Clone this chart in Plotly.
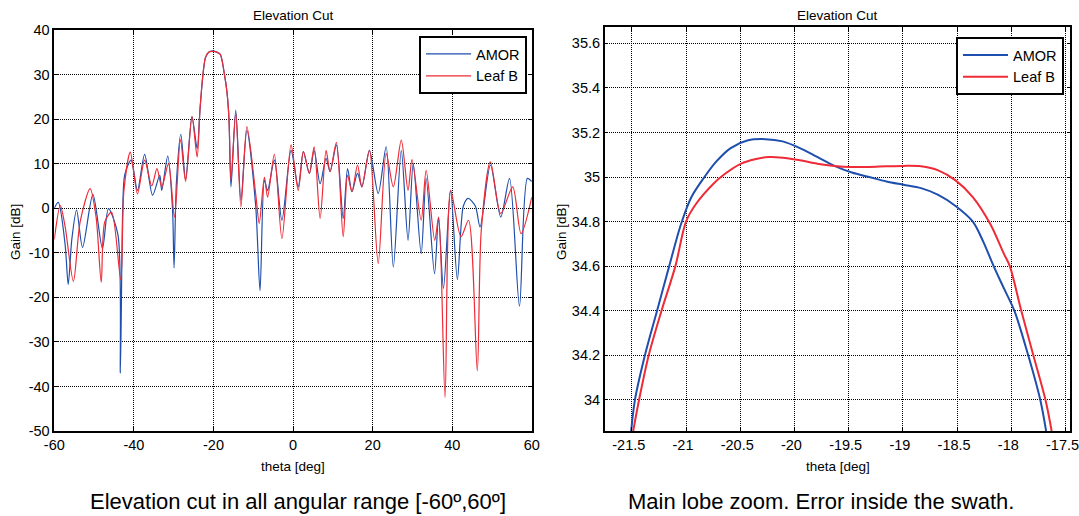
import plotly.graph_objects as go

# ---------------- data: full angular range ----------------
amor_theta = [-60, -59.0, -57.3, -56.5, -55.6, -54.4, -52.9, -50.3, -47.9, -46.4, -44.0, -43.4, -42.8,
              -42.3, -40.7, -39.1, -37.3, -35.3, -33.5, -33.0, -31.5, -30.3, -29.9, -29.3, -28.2, -27.0,
              -25.4, -24.1, -23.4, -22.6, -22.0, -21.2, -20.3, -19.3, -18.3, -17.3, -16.6, -16.1, -15.6,
              -14.4, -13.1,
              -11.6, -9.4, -8.3, -7.2, -6.4, -4.7, -2.8, -0.5, 1.3, 2.6, 4.1, 5.3, 6.8, 8.3, 9.3, 10.9,
              12.6, 13.7, 14.8, 16.2, 17.3, 19.2, 21.4, 23.4, 25.2, 27.2, 28.9, 30.2, 32.2, 33.45, 35.55,
              36.55, 37.8, 39.6, 41.3, 42.8, 44.0, 45.8, 47.0, 49.6, 52.2, 54.4, 56.9, 58.9, 60]
amor_gain = [0.0, 1.3, -8, -17.1, -7, -0.4, -8.8, 3.1, -9.0, -0.1, -6, -37, 0,
             7.5, 10.8, 4.0, 12.1, 2.9, 7.4, 4.0, 11.7, 0, -13.4, 6, 16.6, 6.5,
             20.5, 13.4, 22, 30.3, 33.8, 35.0, 35.3, 35.1, 34.5, 30.3, 26, 20, 4.8,
             22, 1.8,
             17.5, 0.7, -18.5, 6.3, 4.0, 10.8, -2.7, 13.0, 4.8, 12.7, 7.8, 13.0, 5.5, 11.2, 8.2, 14.2,
             -2.3, 8.9, 3.7, 7.8, 4.8, 13.0, 3.3, 13.8, -13.2, 13.0, -7.2, 10.0, -10.2, 6.7, -14.7,
             -2.0, -18, 4.0, -16, 0.5, 2.2, 0.5, -4.2, 9.7, -2.0, 6.7, -22, 6.7, 6.0]

leaf_theta = [-60, -58.5, -57.3, -55.2, -53.5, -51.0, -49.5, -48.2, -47.3, -45.6, -43.3, -42.5, -40.9,
              -39.1, -37.3, -35.5, -34.2, -33.0, -31.3, -29.8, -28.3, -27.0, -25.4, -24.1, -23.4, -22.6,
              -22.0, -21.2, -20.3, -19.3, -18.3, -17.3, -16.6, -16.1, -15.6, -14.4, -13.1, -11.6, -9.3,
              -8.5, -7.2,
              -6.4, -4.7, -2.8, -0.5, 1.3, 2.6, 4.1, 5.3, 6.8, 8.3, 9.3, 10.9, 12.6, 13.7, 14.8, 16.2,
              17.3, 19.2, 21.4, 23.4, 25.2, 27.2, 28.9, 29.9, 32.2, 33.45, 35.6, 36.6, 38.2, 39.6, 42.2,
              44.1, 46.3, 47.3, 49.6, 52.2, 55.2, 57.3, 60]
leaf_gain = [-7, 0.6, -4, -16.4, -3, 4.4, -2, -16.6, -3, -0.9, -16, 4, 12.6,
             3.2, 10.8, 5.0, 8.9, 4.8, 10.0, -2, 15.4, 6.0, 20.6, 11.5, 22, 30.4,
             33.9, 35.0, 35.2, 35.1, 34.6, 30.4, 26, 20, 6.3, 21.3, 0.3, 18.3, 2.5,
             -3.4, 7.0,
             2.5, 12.1, -6.8, 14.2, 4.0, 12.7, 7.8, 13.8, -2.3, 13.0, 8.2, 14.8, -6.4, 7.4, 3.7, 9.7,
             4.8, 13.0, -12.4, 12.3, 4.8, 15.3, 4.0, 10.9, -2.7, 8.5, -7.2, -2.0, -42.5, 4.0, -6.4,
             -2.7, -36.5, -5, 10.4, -1.2, 4.8, -5.7, 2.5]

# ---------------- data: main lobe zoom ----------------
zoom_amor_theta = [-21.506, -21.471, -21.379, -21.267, -21.155, -21.045, -20.95, -20.83, -20.72,
                   -20.588, -20.428, -20.269, -20.109, -19.950, -19.790, -19.631, -19.471, -19.312,
                   -19.152, -18.993, -18.833, -18.674, -18.514, -18.355, -18.259, -18.163, -18.068,
                   -17.972, -17.844, -17.733, -17.679]
zoom_amor_gain = [33.86, 34.0, 34.2, 34.4, 34.6, 34.79, 34.91, 35.0, 35.07,
                  35.13, 35.165, 35.17, 35.16, 35.13, 35.09, 35.05, 35.02, 35.0,
                  34.98, 34.965, 34.95, 34.92, 34.87, 34.8, 34.71, 34.6, 34.5,
                  34.4, 34.2, 34.0, 33.86]

zoom_leaf_theta = [-21.487, -21.433, -21.344, -21.226, -21.098, -21.0, -20.907, -20.747, -20.652,
                   -20.492, -20.364, -20.237, -20.109, -19.95, -19.79, -19.631, -19.471, -19.312,
                   -19.152, -18.993, -18.833, -18.674, -18.514, -18.355, -18.195, -18.068, -18.014,
                   -17.908, -17.797, -17.685, -17.628]
zoom_leaf_gain = [33.86, 34.0, 34.2, 34.4, 34.6, 34.8, 34.88, 34.97, 35.01,
                  35.06, 35.08, 35.09, 35.087, 35.075, 35.06, 35.05, 35.045, 35.045,
                  35.048, 35.05, 35.048, 35.03, 34.985, 34.91, 34.79, 34.655, 34.6,
                  34.4, 34.2, 34.0, 33.86]

left_xticks = [-60, -40, -20, 0, 20, 40, 60]
left_xtext = ["-60", "-40", "-20", "0", "20", "40", "60"]
left_yticks = [-50, -40, -30, -20, -10, 0, 10, 20, 30, 40]
left_ytext = ["-50", "-40", "-30", "-20", "-10", "0", "10", "20", "30", "40"]
right_xticks = [-21.5, -21, -20.5, -20, -19.5, -19, -18.5, -18, -17.5]
right_xtext = ["-21.5", "-21", "-20.5", "-20", "-19.5", "-19", "-18.5", "-18", "-17.5"]
right_yticks = [34.0, 34.2, 34.4, 34.6, 34.8, 35.0, 35.2, 35.4, 35.6]
right_ytext = ["34", "34.2", "34.4", "34.6", "34.8", "35", "35.2", "35.4", "35.6"]

BLUE = "#1f4fae"
RED = "#ee2b36"
FONT = "Liberation Sans, Arial, sans-serif"

fig = go.Figure()
fig.add_trace(go.Scatter(x=amor_theta, y=amor_gain, mode="lines", name="AMOR",
                         line=dict(color=BLUE, width=1.2, shape="spline", smoothing=0.8),
                         xaxis="x", yaxis="y", legend="legend"))
fig.add_trace(go.Scatter(x=leaf_theta, y=leaf_gain, mode="lines", name="Leaf B",
                         line=dict(color=RED, width=1.2, shape="spline", smoothing=0.8),
                         xaxis="x", yaxis="y", legend="legend"))
fig.add_trace(go.Scatter(x=zoom_amor_theta, y=zoom_amor_gain, mode="lines", name="AMOR",
                         line=dict(color=BLUE, width=2, shape="spline", smoothing=0.9),
                         xaxis="x2", yaxis="y2", legend="legend2"))
fig.add_trace(go.Scatter(x=zoom_leaf_theta, y=zoom_leaf_gain, mode="lines", name="Leaf B",
                         line=dict(color=RED, width=2, shape="spline", smoothing=0.9),
                         xaxis="x2", yaxis="y2", legend="legend2"))

axis_common = dict(showline=True, linecolor="black", linewidth=1.5, mirror="allticks",
                   ticks="inside", ticklen=4, tickcolor="black", automargin=False,
                   ticklabeloverflow="allow",
                   showgrid=True, gridcolor="black", griddash="1px,1px", gridwidth=1,
                   zeroline=False, tickfont=dict(family=FONT, size=14.5, color="black"))

Wd, Ht = 1079, 516
fig.update_layout(
    template="none",
    width=Wd, height=Ht,
    margin=dict(l=0, r=0, t=0, b=0),
    paper_bgcolor="white", plot_bgcolor="white",
    font=dict(family=FONT, color="black"),
    xaxis=dict(domain=[54.3 / Wd, 531.8 / Wd], range=[-60, 60], tickvals=left_xticks,
               ticktext=left_xtext, anchor="y", **axis_common),
    yaxis=dict(domain=[1 - 431 / Ht, 1 - 30 / Ht], range=[-50, 40], tickvals=left_yticks,
               ticktext=left_ytext, anchor="x", **axis_common),
    xaxis2=dict(domain=[604.7 / Wd, 1070.4 / Wd], range=[-21.75, -17.455], tickvals=right_xticks,
                ticktext=right_xtext, anchor="y2", ticklabelshift=-3, **axis_common),
    yaxis2=dict(domain=[1 - 431 / Ht, 1 - 27.3 / Ht], range=[33.86, 35.672], tickvals=right_yticks,
                ticktext=right_ytext, anchor="x2", **axis_common),
    legend=dict(x=527 / Wd, y=1 - 36 / Ht, xanchor="right", yanchor="top",
                bgcolor="white", bordercolor="black", borderwidth=2,
                font=dict(family=FONT, size=14.5, color="black"), itemwidth=45,
                tracegroupgap=0),
    legend2=dict(x=1064 / Wd, y=1 - 37 / Ht, xanchor="right", yanchor="top",
                 bgcolor="white", bordercolor="black", borderwidth=2,
                 font=dict(family=FONT, size=14.5, color="black"), itemwidth=45,
                 tracegroupgap=0),
    showlegend=True,
)

annos = [
    dict(text="Elevation Cut", x=(54.3 + 531.8) / 2 / Wd, y=1 - 15 / Ht, size=13.5),
    dict(text="Elevation Cut", x=(604.7 + 1070.4) / 2 / Wd, y=1 - 15 / Ht, size=13.5),
    dict(text="theta [deg]", x=(54.3 + 531.8) / 2 / Wd, y=1 - 466 / Ht, size=13.5),
    dict(text="theta [deg]", x=(604.7 + 1070.4) / 2 / Wd, y=1 - 466 / Ht, size=13.5),
    dict(text="Elevation cut in all angular range [-60º,60º]", x=298 / Wd, y=1 - 501 / Ht, size=22),
    dict(text="Main lobe zoom. Error inside the swath.", x=821 / Wd, y=1 - 501 / Ht, size=22),
]
for a in annos:
    fig.add_annotation(text=a["text"], x=a["x"], y=a["y"], xref="paper", yref="paper",
                       showarrow=False, xanchor="center", yanchor="middle",
                       font=dict(family=FONT, size=a["size"], color="black"))
for xpos in (15, 561):
    fig.add_annotation(text="Gain [dB]", x=xpos / Wd, y=1 - 232 / Ht, xref="paper", yref="paper",
                       showarrow=False, textangle=-90, xanchor="center", yanchor="middle",
                       font=dict(family=FONT, size=13.5, color="black"))

fig.write_html("out.html", config={"displayModeBar": False},
               post_script="document.body.style.margin='0px';document.body.style.overflow='hidden';")
